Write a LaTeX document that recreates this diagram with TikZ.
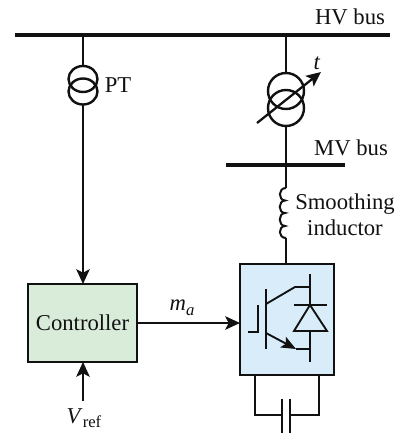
\documentclass[tikz,border=0pt]{standalone}
\usepackage{fontspec}
\setmainfont{Liberation Serif}
\usetikzlibrary{arrows.meta}
\definecolor{ctrlfill}{HTML}{D9ECDA}
\definecolor{convfill}{HTML}{D9ECF9}
\definecolor{ink}{HTML}{111111}
\tikzset{
  x=0.75pt,y=-0.75pt,
  wire/.style={draw=ink,line width=1.7pt},
  thinwire/.style={draw=ink,line width=1.4pt},
  bus/.style={draw=ink,line width=3.4pt},
  sig/.style={draw=ink,line width=1.7pt,-{Stealth[length=11pt,width=10pt,inset=2.5pt]}},
  lbl/.style={inner sep=0pt,text=ink,font=\fontsize{17}{19.5}\selectfont},
  block/.style={draw=ink,line width=2pt,inner sep=0pt,outer sep=0pt,anchor=north west},
}
\newcommand{\subtxt}[1]{\raisebox{-3.5pt}{\fontsize{12.5}{12.5}\selectfont #1}}
\begin{document}
\begin{tikzpicture}
\useasboundingbox (0,0) rectangle (398,435);
% buses
\coordinate (hvL) at (15,35); \coordinate (hvR) at (390,35);
\coordinate (mvL) at (226,165); \coordinate (mvR) at (345,165);
\draw[bus] (hvL) -- (hvR);
\draw[bus] (mvL) -- (mvR);
\node[lbl] (hvlabel) at (350,17) {HV bus};
\node[lbl] (mvlabel) at (351,148) {MV bus};
% PT
\coordinate (ptTap) at (83,35);
\coordinate (ptTop) at (83,66); \coordinate (ptBot) at (83,104.5);
\coordinate (ptC1) at (83,79); \coordinate (ptC2) at (83,91.5);
\draw[draw=ink,line width=1.8pt] (ptC1) ellipse [x radius=14.5,y radius=13];
\draw[draw=ink,line width=1.8pt] (ptC2) ellipse [x radius=14.5,y radius=13];
\draw[thinwire] (ptTap) -- (ptTop);
\node[lbl] (ptlabel) at (118,85) {PT};
% controller
\node[block,fill=ctrlfill,minimum width=81.75pt,minimum height=58.5pt] (ctrl) at (28,284) {};
\node[lbl] (ctrltext) at (ctrl.center) {Controller};
\draw[sig] (ptBot) -- (ctrl.north -| ptBot);
\coordinate (vrefS) at (83,401);
\draw[sig] (vrefS) -- (ctrl.south -| vrefS);
\node[lbl] (vref) at (84,418) {\textit{V}\subtxt{ref}};
% converter
\node[block,fill=convfill,minimum width=70.5pt,minimum height=83.25pt] (conv) at (240,264) {};
\draw[sig] (ctrl.east) -- (conv.west |- ctrl.east);
\node[lbl] (ma) at (182,308) {\textit{m}\subtxt{\textit{a}}};
% tap-changing transformer
\coordinate (trTap) at (286,35);
\coordinate (trTop) at (286,73); \coordinate (trBot) at (286,126);
\coordinate (trC1) at (286,91); \coordinate (trC2) at (286,108);
\draw[draw=ink,line width=1.8pt] (trC1) circle [radius=18];
\draw[draw=ink,line width=1.8pt] (trC2) circle [radius=18];
\draw[thinwire] (trTap) -- (trTop);
\coordinate (mvTap) at (286,165);
\draw[wire] (trBot) -- (mvTap);
\coordinate (tS) at (257,123); \coordinate (tE) at (321,72);
\draw[sig] (tS) -- (tE);
\node[lbl] (tlabel) at (317,63) {\textit{t}};
% inductor
\coordinate (indT) at (286,188); \coordinate (indB) at (286,238);
\draw[wire] (mvTap) -- (indT);
\draw[draw=ink,line width=1.5pt] (indT)
  .. controls (278,188) and (278,200) .. (285,200.5)
  .. controls (278,201) and (278,213) .. (285,213)
  .. controls (278,213.5) and (278,225.5) .. (285,226)
  .. controls (278,226.5) and (278,238) .. (indB);
\draw[wire] (indB) -- (conv.north -| indB);
\node[lbl,align=center] (indlabel) at (345,214.5) {Smoothing\\inductor};
% IGBT
\coordinate (gA) at (248,332); \coordinate (gB) at (258,332); \coordinate (gC) at (258,305);
\coordinate (barT) at (266,289); \coordinate (barB) at (266,349);
\coordinate (cA) at (266,304); \coordinate (cB) at (295,287); \coordinate (cC) at (310,287);
\coordinate (eA) at (266,333); \coordinate (eB) at (296,349); \coordinate (eC) at (310,349);
\draw[thinwire] (gA) -- (gB) -- (gC);
\draw[thinwire] (barT) -- (barB);
\draw[thinwire] (cA) -- (cB) -- (cC);
\draw[thinwire,-{Stealth[length=11pt,width=9pt,inset=2.5pt]}] (eA) -- (eB);
\draw[thinwire] (eB) -- (eC);
% diode
\coordinate (dT) at (310,274); \coordinate (dA) at (310,305);
\coordinate (dBm) at (310,331); \coordinate (dB) at (310,362);
\coordinate (dL) at (294,331); \coordinate (dR) at (327,331);
\coordinate (bL) at (294,305); \coordinate (bR) at (327,305);
\draw[thinwire] (dT) -- (dA);
\draw[thinwire] (dBm) -- (dB);
\draw[thinwire] (bL) -- (bR);
\draw[thinwire,line join=miter] (dA) -- (dL) -- (dR) -- cycle;
% capacitor
\coordinate (capL) at (255,375); \coordinate (capLb) at (255,415); \coordinate (capP1) at (282,415);
\coordinate (capR) at (319,375); \coordinate (capRb) at (319,415); \coordinate (capP2) at (290,415);
\coordinate (p1T) at (282,399); \coordinate (p1B) at (282,433);
\coordinate (p2T) at (290,399); \coordinate (p2B) at (290,433);
\draw[thinwire] (capL) -- (capLb) -- (capP1);
\draw[thinwire] (capR) -- (capRb) -- (capP2);
\draw[thinwire] (p1T) -- (p1B);
\draw[thinwire] (p2T) -- (p2B);
\end{tikzpicture}
\end{document}
